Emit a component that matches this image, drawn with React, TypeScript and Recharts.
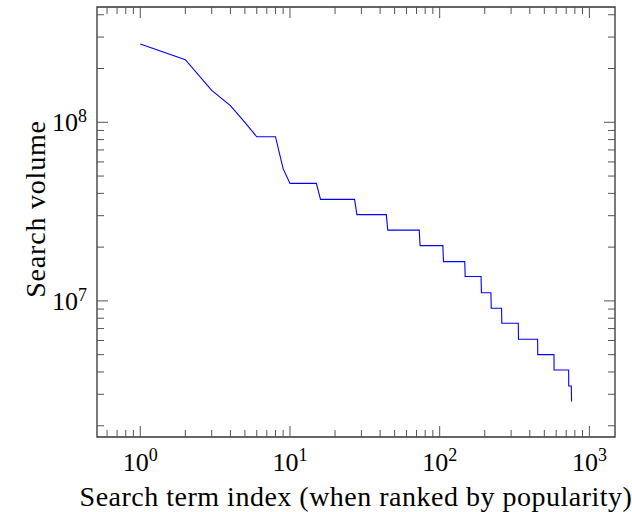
import { LineChart, Line, XAxis, YAxis, ReferenceArea } from 'recharts';

// rank of the search term and its (bucketed) monthly search volume
const RANKS = [
  1, 2, 3, 4, 5, 6, 8, 9, 10, 15, 16, 27, 28, 44, 45, 73, 74, 105, 106, 147, 148,
  189, 190, 220, 221, 259, 260, 335, 336, 451, 452, 580, 581, 727, 728, 757, 760,
];
const VOLUMES = [
  2.74e8, 2.24e8, 1.51e8, 1.24e8, 1.0e8, 8.3e7, 8.3e7, 5.5e7, 4.55e7, 4.55e7, 3.7e7,
  3.7e7, 3.04e7, 3.04e7, 2.49e7, 2.49e7, 2.04e7, 2.04e7, 1.66e7, 1.66e7, 1.37e7,
  1.37e7, 1.11e7, 1.11e7, 9.1e6, 9.1e6, 7.5e6, 7.5e6, 6.1e6, 6.1e6, 5.0e6, 5.0e6,
  4.1e6, 4.1e6, 3.34e6, 3.34e6, 2.73e6,
];

const X_DOMAIN = [0.514, 1483];
const Y_DOMAIN = [1.73e6, 4.42e8];
const X_TICKS = [
  0.6, 0.7, 0.8, 0.9, 1, 2, 3, 4, 5, 6, 7, 8, 9, 10, 20, 30, 40, 50, 60, 70, 80, 90,
  100, 200, 300, 400, 500, 600, 700, 800, 900, 1000,
];
const Y_TICKS = [
  2e6, 3e6, 4e6, 5e6, 6e6, 7e6, 8e6, 9e6, 1e7, 2e7, 3e7, 4e7, 5e7, 6e7, 7e7, 8e7, 9e7,
  1e8, 2e8, 3e8, 4e8,
];

const data = RANKS.map((r, i) => ({ rank: r, volume: VOLUMES[i] }));

const FONT = '"Liberation Serif", "DejaVu Serif", serif';
const PLOT_W = 518;
const PLOT_H = 430;
const MAJOR = 11;
const MINOR = 7;

const exponent = (v: number) => {
  const e = Math.log10(v);
  return Math.abs(e - Math.round(e)) < 1e-9 ? Math.round(e) : null;
};

const XTick = (props: any) => {
  const { x, y, payload } = props;
  const e = exponent(payload.value);
  const len = e === null ? MINOR : MAJOR;
  return (
    <g>
      <line x1={x} y1={y} x2={x} y2={y - len} stroke="#555" strokeWidth={1} />
      <line x1={x} y1={y - PLOT_H} x2={x} y2={y - PLOT_H + len} stroke="#555" strokeWidth={1} />
      {e !== null && (
        <text x={x} y={y + 34} textAnchor="middle" fontFamily={FONT} fontSize={26} fill="#000">
          <tspan>10</tspan>
          <tspan dy={-10} fontSize={18}>{e}</tspan>
        </text>
      )}
    </g>
  );
};

const YTick = (props: any) => {
  const { x, y, payload } = props;
  const e = exponent(payload.value);
  const len = e === null ? MINOR : MAJOR;
  return (
    <g>
      <line x1={x} y1={y} x2={x + len} y2={y} stroke="#555" strokeWidth={1} />
      <line x1={x + PLOT_W} y1={y} x2={x + PLOT_W - len} y2={y} stroke="#555" strokeWidth={1} />
      {e !== null && (
        <text x={x - 10} y={y + 9} textAnchor="end" fontFamily={FONT} fontSize={26} fill="#000">
          <tspan>10</tspan>
          <tspan dy={-9} fontSize={18}>{e}</tspan>
        </text>
      )}
    </g>
  );
};

export default function App() {
  return (
    <div style={{ position: 'absolute', left: 0, top: 0, background: '#fff' }}>
      <LineChart
        width={632}
        height={512}
        data={data}
        margin={{ top: 7, right: 17, bottom: 0, left: 0 }}
      >
        <XAxis
          dataKey="rank"
          type="number"
          scale="log"
          domain={X_DOMAIN}
          allowDataOverflow
          ticks={X_TICKS}
          interval={0}
          height={75}
          tickSize={0}
          tickMargin={0}
          tickLine={false}
          axisLine={false}
          tick={<XTick />}
          label={{
            content: (p: any) => (
              <text
                x={p.viewBox.x + p.viewBox.width / 2}
                y={p.viewBox.y + 69}
                textAnchor="middle"
                fontFamily={FONT}
                fontSize={28}
                letterSpacing={0.5}
                fill="#000"
              >
                Search term index (when ranked by popularity)
              </text>
            ),
          }}
        />
        <YAxis
          dataKey="volume"
          type="number"
          scale="log"
          domain={Y_DOMAIN}
          allowDataOverflow
          ticks={Y_TICKS}
          interval={0}
          width={97}
          tickSize={0}
          tickMargin={0}
          tickLine={false}
          axisLine={false}
          tick={<YTick />}
          label={{
            content: (p: any) => {
              const cx = p.viewBox.x + 45;
              const cy = p.viewBox.y + p.viewBox.height / 2 - 13;
              return (
                <text
                  x={cx}
                  y={cy}
                  transform={`rotate(-90 ${cx} ${cy})`}
                  textAnchor="middle"
                  fontFamily={FONT}
                  fontSize={28}
                  letterSpacing={0.8}
                  fill="#000"
                >
                  Search volume
                </text>
              );
            },
          }}
        />
        <ReferenceArea
          x1={X_DOMAIN[0]}
          x2={X_DOMAIN[1]}
          y1={Y_DOMAIN[0]}
          y2={Y_DOMAIN[1]}
          fill="none"
          stroke="#333"
          strokeWidth={1.3}
          fillOpacity={0}
          ifOverflow="visible"
        />
        <Line
          dataKey="volume"
          type="linear"
          stroke="#0000ff"
          strokeWidth={1.1}
          dot={false}
          isAnimationActive={false}
        />
      </LineChart>
    </div>
  );
}
